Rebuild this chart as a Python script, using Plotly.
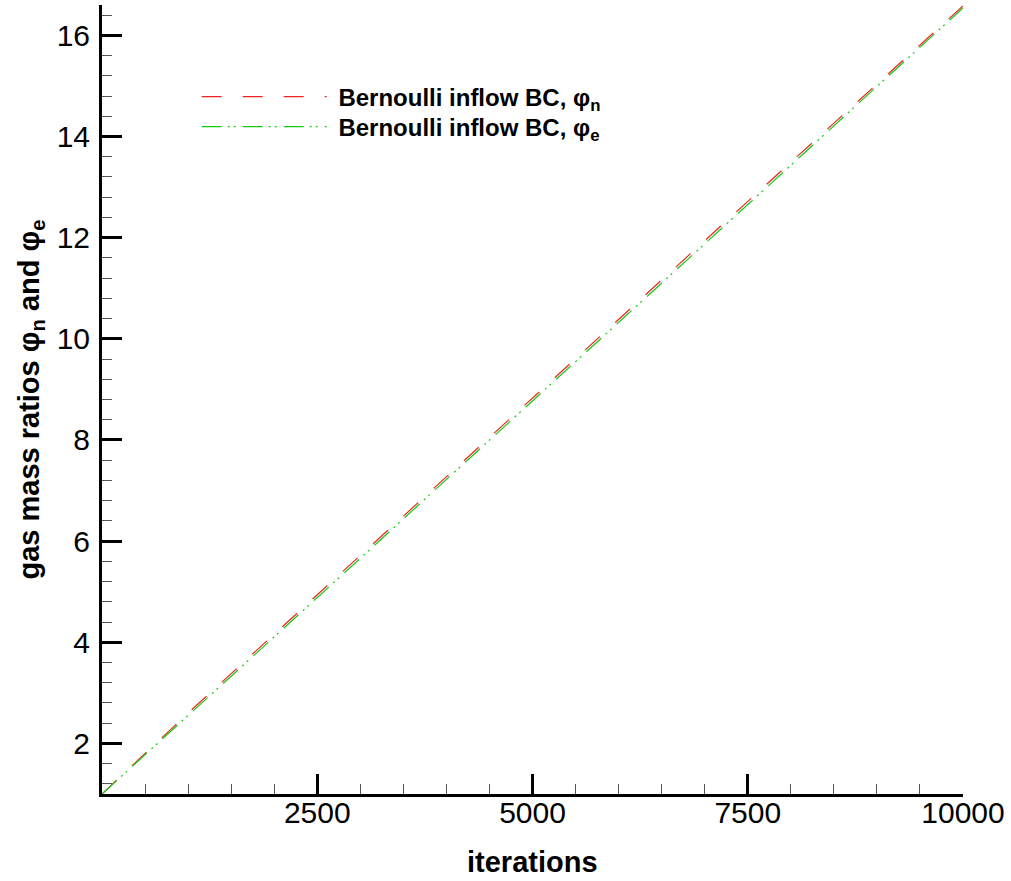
import plotly.graph_objects as go

# Gas mass ratios over the solver iterations
iterations = [0, 1000, 2000, 3000, 4000, 5000, 6000, 7000, 8000, 9000, 10000]
phi_n = [1.00, 2.60, 4.16, 5.72, 7.27, 8.83, 10.38, 11.94, 13.49, 15.04, 16.58]
phi_e = [1.00, 2.55, 4.11, 5.66, 7.22, 8.77, 10.33, 11.88, 13.43, 14.99, 16.54]

x_ticks = [2500, 5000, 7500, 10000]
y_ticks = [2, 4, 6, 8, 10, 12, 14, 16]

FONT = "Liberation Sans, Arial, sans-serif"
NBSP = "\u00a0"

fig = go.Figure()
fig.add_trace(go.Scatter(
    x=iterations, y=phi_n, mode="lines", legend="legend",
    name=NBSP + "<b>Bernoulli inflow BC, φ<sub>n</sub></b>",
    line=dict(color="#ee2222", width=1.2, dash="20px,21px"),
))
fig.add_trace(go.Scatter(
    x=iterations, y=phi_e, mode="lines", legend="legend2",
    name=NBSP + "<b>Bernoulli inflow BC, φ<sub>e</sub></b>",
    line=dict(color="#11cc11", width=1.2, dash="20px,6px,2px,4px,2px,7px"),
))

axis_common = dict(
    showgrid=False, zeroline=False, automargin=False,
    showline=True, linecolor="black", linewidth=3,
    ticks="inside", ticklen=20, tickwidth=3, tickcolor="black",
    tickfont=dict(family=FONT, size=30, color="black"),
    mirror=False,
)

fig.update_xaxes(
    range=[0, 10000], tickvals=x_ticks, ticktext=[str(v) for v in x_ticks],
    ticklabelstandoff=-10,
    minor=dict(ticks="inside", dtick=500, tick0=0, ticklen=10, tickwidth=1, tickcolor="#555555"),
    **axis_common,
)
fig.update_yaxes(
    range=[1, 16.6], tickvals=y_ticks, ticktext=[str(v) for v in y_ticks],
    ticklabelstandoff=3,
    minor=dict(ticks="inside", dtick=0.4, tick0=0, ticklen=10, tickwidth=1, tickcolor="#555555"),
    **axis_common,
)

# Axis titles
fig.add_annotation(
    text="<b>iterations</b>", xref="paper", yref="paper",
    x=0.5, y=-0.086, xanchor="center", yanchor="middle", showarrow=False,
    font=dict(family=FONT, size=29, color="black"),
)
fig.add_annotation(
    text="<b>gas mass ratios φ<sub>n</sub> and φ<sub>e</sub></b>", xref="paper", yref="paper",
    x=-0.0836, y=0.5, xanchor="center", yanchor="middle", textangle=-90, showarrow=False,
    font=dict(family=FONT, size=29, color="black"),
)

legend_style = dict(
    xanchor="left", yanchor="middle",
    font=dict(family=FONT, size=24, color="black"),
    itemwidth=125, bgcolor="rgba(0,0,0,0)",
)

fig.update_layout(
    width=1011, height=881,
    margin=dict(l=102, r=48, t=5, b=87),
    paper_bgcolor="white", plot_bgcolor="white",
    showlegend=True,
    legend=dict(x=0.11, y=0.8834, **legend_style),
    legend2=dict(x=0.11, y=0.8454, **legend_style),
)

fig.write_html("out.html")
